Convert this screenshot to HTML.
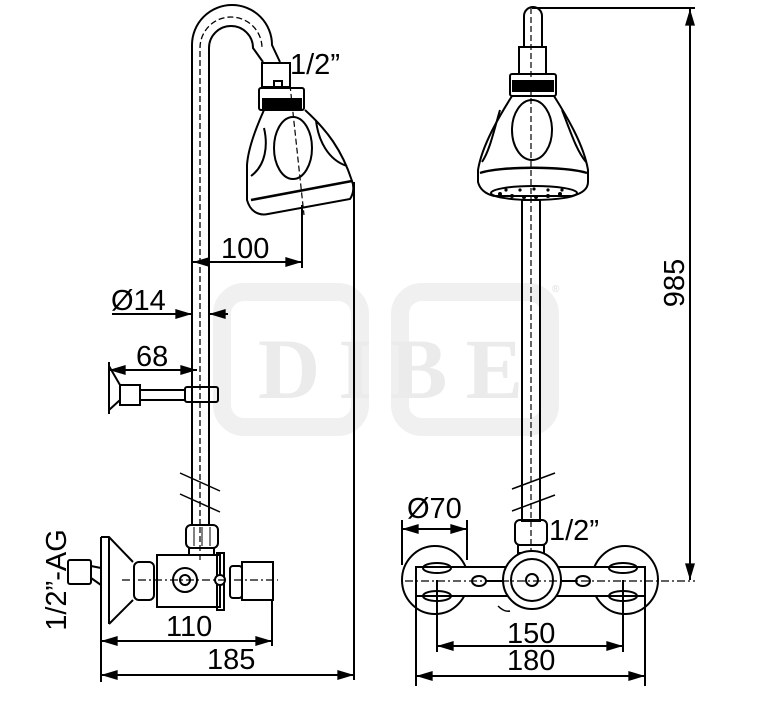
<!DOCTYPE html>
<html><head><meta charset="utf-8"><style>
html,body{margin:0;padding:0;background:#fff}
svg{display:block}
text{font-family:"Liberation Sans",sans-serif;fill:#000}
</style></head><body>
<svg width="767" height="709" viewBox="0 0 767 709" xmlns="http://www.w3.org/2000/svg">
<defs>
<marker id="a" viewBox="0 0 10 6" refX="10" refY="3" markerWidth="18" markerHeight="10" markerUnits="userSpaceOnUse" orient="auto-start-reverse"><path d="M0,0L10,3L0,6z" fill="#000"/></marker>
</defs>
<!-- watermark -->
<g fill="none" stroke="#f0f0f0" stroke-width="18">
<rect x="222" y="292" width="138" height="135" rx="22"/>
<rect x="400" y="292" width="150" height="135" rx="22"/>
</g>
<text x="258" y="398" font-size="86" font-weight="bold" textLength="265" style="fill:#ebebeb;font-family:'Liberation Serif',serif">DIBE</text>
<text x="552" y="292" font-size="10" style="fill:#ddd">®</text>

<g fill="none" stroke="#000" stroke-width="2">
<path d="M192,525 V45 A40,40 0 0 1 272,45 L280,62"/>
<path d="M209,525 V48 A22,22 0 0 1 253,48 L263,62"/>
<path d="M200,525 V48 A31,31 0 0 1 262,48" stroke-dasharray="6,3" stroke-width="1.3"/>
<rect x="262" y="63" width="28" height="24"/>
<path d="M274,87 v-6 h8 v6"/>
<rect x="259" y="88" width="45" height="22" rx="2"/>
<path d="M264,110 C255,130 248,150 247,165 V200 C250,211 258,216 268,214 L350,199 C354,193 354,186 352,181 C342,150 327,130 305,110"/>
<path d="M251,200 L352,181" stroke-width="2.5"/>
<ellipse cx="293" cy="148" rx="19" ry="31"/>
<path d="M264,128 C268,145 266,165 251,176"/>
<path d="M316,120 C318,140 328,160 347,166"/>
<path d="M290,85 L304,215" stroke-dasharray="6,3" stroke-width="1.2"/>
<path d="M302,205 V268"/>
<path d="M354,182 V680"/>
<path d="M101,620 V682"/>
<path d="M272,600 V646"/>
<path d="M109,362 V414"/>
<path d="M109,366 L120,385 M109,410 L120,400"/>
<rect x="120" y="385" width="20" height="20"/>
<rect x="140" y="390" width="45" height="10"/>
<rect x="185" y="387" width="33" height="15" rx="2"/>
<path d="M180,473 L220,491 M180,494 L220,512" stroke-width="1.5"/>
<rect x="186" y="525" width="32" height="23" rx="5"/>
<path d="M194,527 v19 M202,527 v19 M210,527 v19" stroke-width="1"/>
<rect x="189" y="548" width="25" height="7"/>
<rect x="157" y="555" width="63" height="52"/>
<rect x="134" y="562" width="20" height="38" rx="5"/>
<path d="M101,537 V624 M101,537 h8 L133,562 M109,624 L133,600 M109,537 V624"/>
<rect x="68" y="560" width="23" height="24" rx="2"/>
<path d="M91,566 L101,568 M91,578 L101,585"/>
<circle cx="185" cy="580" r="12"/>
<circle cx="185" cy="580" r="5"/>
<rect x="217" y="553" width="7" height="57"/>
<circle cx="220" cy="580" r="5" fill="#fff"/>
<rect x="230" y="566" width="12" height="32" rx="3"/>
<rect x="242" y="562" width="31" height="38"/>
<path d="M122,580 H278" stroke-dasharray="8,3,2,3" stroke-width="1.2"/>
<path d="M200,527 V560" stroke-dasharray="6,3" stroke-width="1.2"/>

<path d="M524,47 V16 A9,9 0 0 1 542,16 V47"/>
<rect x="519" y="47" width="27" height="27"/>
<rect x="510" y="74" width="46" height="22" rx="2"/>
<path d="M512,96 C500,115 482,145 478,170 V182 C480,190 486,194 494,196 H572 C580,194 588,190 588,182 V170 C584,145 566,115 554,96"/>
<path d="M480,173 C500,166 566,166 587,173" stroke-width="2.5"/>
<ellipse cx="534" cy="193" rx="43" ry="7"/>
<ellipse cx="532" cy="130" rx="20" ry="30"/>
<path d="M500,110 C494,130 490,150 482,162"/>
<path d="M562,110 C570,130 576,150 586,162"/>
<rect x="522" y="200" width="18" height="321"/>
<path d="M531,8 V600" stroke-dasharray="6,3" stroke-width="1.2"/>
<path d="M512,489 L555,473 M512,511 L555,495" stroke-width="1.5"/>
<rect x="515" y="520" width="32" height="25" rx="5"/>
<rect x="518" y="545" width="26" height="8"/>
<ellipse cx="435" cy="580" rx="33" ry="34"/>
<ellipse cx="625" cy="580" rx="33" ry="34"/>
<rect x="416" y="567" width="229" height="29" fill="#fff"/>
<ellipse cx="437" cy="568" rx="14" ry="5"/>
<ellipse cx="437" cy="596" rx="14" ry="5"/>
<ellipse cx="623" cy="568" rx="14" ry="5"/>
<ellipse cx="623" cy="596" rx="14" ry="5"/>
<circle cx="532" cy="580" r="29" fill="#fff"/>
<circle cx="532" cy="580" r="21"/>
<circle cx="532" cy="580" r="6"/>
<ellipse cx="479" cy="581" rx="7" ry="5"/>
<ellipse cx="583" cy="581" rx="7" ry="5"/>
<path d="M486,581 H503 M561,581 H576"/>
<path d="M405,581 H695" stroke-dasharray="8,3,2,3" stroke-width="1.2"/>
<path d="M532,8 H695"/>
<path d="M402,520 V565 M467,520 V560"/>
<path d="M437,580 V652 M623,580 V652 M416,595 V686 M645,595 V686"/>
<path d="M498,606 C502,610 506,612 510,611" stroke-width="1.5"/>
</g>
<g fill="#000">
<circle cx="500" cy="194" r="2"/><circle cx="512" cy="196" r="2"/><circle cx="524" cy="197" r="2"/><circle cx="536" cy="197" r="2"/><circle cx="548" cy="196" r="2"/><circle cx="560" cy="194" r="2"/>
<circle cx="506" cy="190" r="1.6"/><circle cx="520" cy="190" r="1.6"/><circle cx="534" cy="189" r="1.6"/><circle cx="548" cy="190" r="1.6"/><circle cx="562" cy="190" r="1.6"/>
<rect x="262" y="98" width="40" height="12"/>
<rect x="512" y="80" width="42" height="12"/>
</g>
<g stroke="#000" stroke-width="2" fill="none">
<line x1="193" y1="262" x2="302" y2="262" marker-start="url(#a)" marker-end="url(#a)"/>
<line x1="112" y1="314" x2="192" y2="314" marker-end="url(#a)"/>
<line x1="228" y1="314" x2="209" y2="314" marker-end="url(#a)"/>
<line x1="109" y1="370" x2="197" y2="370" marker-start="url(#a)" marker-end="url(#a)"/>
<line x1="101" y1="641" x2="272" y2="641" marker-start="url(#a)" marker-end="url(#a)"/>
<line x1="101" y1="675" x2="354" y2="675" marker-start="url(#a)" marker-end="url(#a)"/>
<line x1="690" y1="9" x2="690" y2="580" marker-start="url(#a)" marker-end="url(#a)"/>
<line x1="402" y1="529" x2="467" y2="529" marker-start="url(#a)" marker-end="url(#a)"/>
<line x1="437" y1="646" x2="623" y2="646" marker-start="url(#a)" marker-end="url(#a)"/>
<line x1="416" y1="676" x2="645" y2="676" marker-start="url(#a)" marker-end="url(#a)"/>
</g>
<g font-size="29">
<text x="290" y="74">1/2”</text>
<text x="221" y="258">100</text>
<text x="111" y="310">Ø14</text>
<text x="136" y="366">68</text>
<text x="166" y="636">110</text>
<text x="207" y="669">185</text>
<text transform="translate(66,580) rotate(-90)" text-anchor="middle">1/2”-AG</text>
<text x="407" y="518">Ø70</text>
<text x="549" y="540">1/2”</text>
<text x="507" y="643">150</text>
<text x="507" y="670">180</text>
<text transform="translate(684,283) rotate(-90)" text-anchor="middle">985</text>
</g>
</svg>
</body></html>
